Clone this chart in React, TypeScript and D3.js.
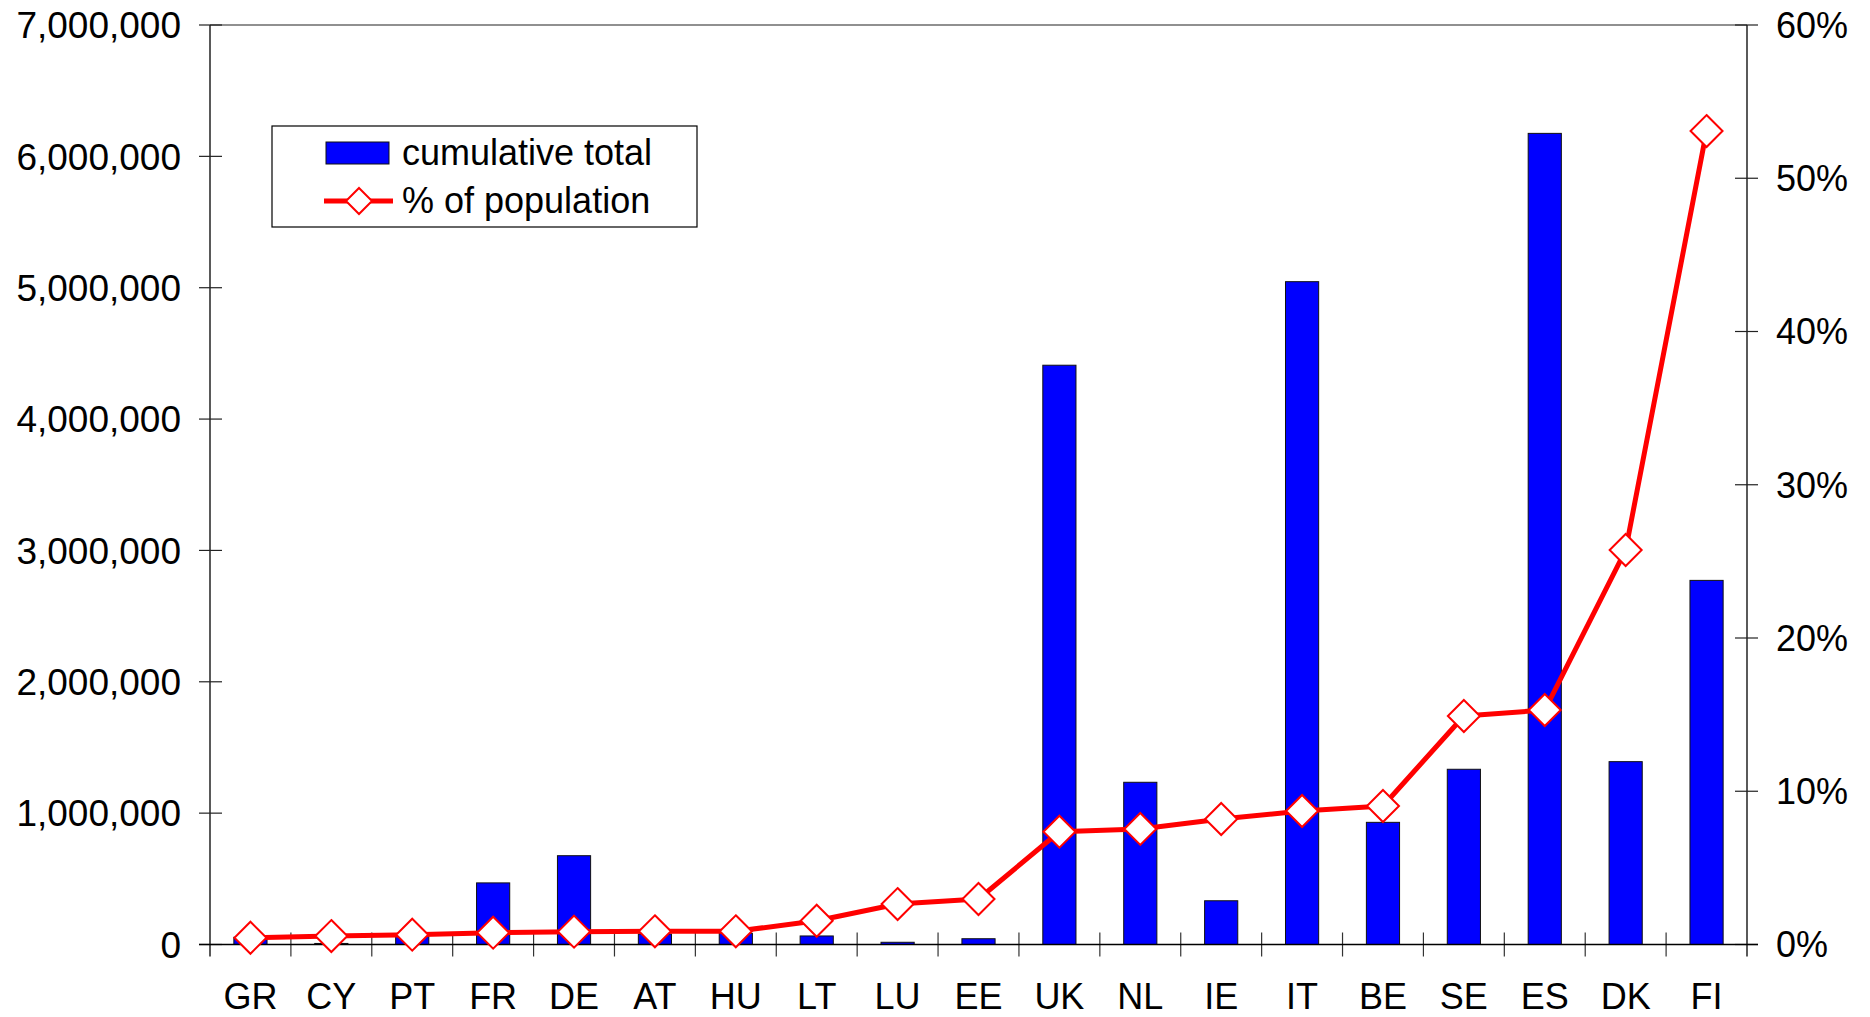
import { useEffect, useRef } from 'react';
import * as d3 from 'd3';

// country codes along the x axis
const countries = ['GR', 'CY', 'PT', 'FR', 'DE', 'AT', 'HU', 'LT', 'LU', 'EE', 'UK', 'NL', 'IE', 'IT', 'BE', 'SE', 'ES', 'DK', 'FI'];

// bars, left axis
const cumulativeTotal = [55000, 8000, 80000, 469000, 676000, 80000, 85000, 65000, 17000, 44000, 4410000, 1235000, 333000, 5046000, 930000, 1334000, 6175000, 1392000, 2772000];

// line, right axis (percent)
const pctPopulation = [0.44, 0.55, 0.64, 0.77, 0.84, 0.86, 0.86, 1.55, 2.64, 2.97, 7.36, 7.54, 8.19, 8.71, 9.04, 14.91, 15.3, 25.74, 53.08];

const leftTicks = [0, 1000000, 2000000, 3000000, 4000000, 5000000, 6000000, 7000000];
const rightTicks = [0, 10, 20, 30, 40, 50, 60];

const legendLabels = ['cumulative total', '% of population'];

const BLUE = '#0000ff';
const RED = '#ff0000';
const FONT = '"Liberation Sans", Arial, sans-serif';

function App() {
    const svgRef = useRef<SVGSVGElement | null>(null);

    useEffect(() => {
        if (!svgRef.current) return;
        const svg = d3.select(svgRef.current);
        svg.selectAll('*').remove();

        const left = 210;
        const right = 1747;
        const top = 25;
        const bottom = 944.5;

        const x = d3.scaleBand<string>().domain(countries).range([left, right]).padding(0);
        const yLeft = d3.scaleLinear().domain([0, 7000000]).range([bottom, top]);
        const yRight = d3.scaleLinear().domain([0, 60]).range([bottom, top]);
        const barW = x.bandwidth() * 0.41;
        const fmt = d3.format(',');

        // frame: top line + both axes
        svg.append('line')
            .attr('x1', left).attr('x2', right).attr('y1', top).attr('y2', top)
            .attr('stroke', '#222').attr('stroke-width', 1.2);
        svg.append('line')
            .attr('x1', left).attr('x2', left).attr('y1', top).attr('y2', bottom + 12)
            .attr('stroke', '#000').attr('stroke-width', 1.3);
        svg.append('line')
            .attr('x1', right).attr('x2', right).attr('y1', top).attr('y2', bottom + 12)
            .attr('stroke', '#000').attr('stroke-width', 1.3);

        // left ticks and labels
        leftTicks.forEach(t => {
            svg.append('line')
                .attr('x1', left - 11).attr('x2', left + 12)
                .attr('y1', yLeft(t)).attr('y2', yLeft(t))
                .attr('stroke', '#222').attr('stroke-width', 1.2);
            svg.append('text')
                .attr('x', 181).attr('y', yLeft(t)).attr('dy', '0.36em')
                .attr('text-anchor', 'end')
                .attr('font-family', FONT).attr('font-size', '37px')
                .text(fmt(t));
        });

        // right ticks and labels
        rightTicks.forEach(t => {
            svg.append('line')
                .attr('x1', right - 12).attr('x2', right + 11)
                .attr('y1', yRight(t)).attr('y2', yRight(t))
                .attr('stroke', '#222').attr('stroke-width', 1.2);
            svg.append('text')
                .attr('x', 1776).attr('y', yRight(t)).attr('dy', '0.36em')
                .attr('font-family', FONT).attr('font-size', '36px')
                .text(t + '%');
        });

        // category ticks at band edges
        countries.forEach((c, i) => {
            const xe = x(c)!;
            if (i > 0) {
                svg.append('line')
                    .attr('x1', xe).attr('x2', xe).attr('y1', bottom - 12).attr('y2', bottom + 12)
                    .attr('stroke', '#333').attr('stroke-width', 1.2);
            }
            svg.append('text')
                .attr('x', xe + x.bandwidth() / 2).attr('y', 1009)
                .attr('text-anchor', 'middle')
                .attr('font-family', FONT).attr('font-size', '36px')
                .text(c);
        });

        // bars
        svg.append('g').selectAll('rect')
            .data(cumulativeTotal)
            .join('rect')
            .attr('x', (_, i) => x(countries[i])! + (x.bandwidth() - barW) / 2)
            .attr('y', d => yLeft(d))
            .attr('width', barW)
            .attr('height', d => bottom - yLeft(d))
            .attr('fill', BLUE)
            .attr('stroke', '#111')
            .attr('stroke-width', 1);

        // bottom axis line (over the bars)
        svg.append('line')
            .attr('x1', left - 11).attr('x2', right + 11).attr('y1', bottom).attr('y2', bottom)
            .attr('stroke', '#000').attr('stroke-width', 1.5);

        // percent line
        const line = d3.line<number>()
            .x((_, i) => x(countries[i])! + x.bandwidth() / 2)
            .y(d => yRight(d));
        svg.append('path')
            .datum(pctPopulation)
            .attr('d', line)
            .attr('fill', 'none')
            .attr('stroke', RED)
            .attr('stroke-width', 5)
            .attr('stroke-linejoin', 'round');

        const diamond = (cx: number, cy: number, r: number) =>
            `M${cx},${cy - r}L${cx + r},${cy}L${cx},${cy + r}L${cx - r},${cy}Z`;

        svg.append('g').selectAll('path')
            .data(pctPopulation)
            .join('path')
            .attr('d', (d, i) => diamond(x(countries[i])! + x.bandwidth() / 2, yRight(d), 16))
            .attr('fill', 'white')
            .attr('stroke', RED)
            .attr('stroke-width', 2);

        // legend
        const lg = svg.append('g');
        lg.append('rect')
            .attr('x', 272).attr('y', 126).attr('width', 425).attr('height', 101)
            .attr('fill', 'white').attr('stroke', '#000').attr('stroke-width', 1.2);
        lg.append('rect')
            .attr('x', 326).attr('y', 142).attr('width', 63).attr('height', 22)
            .attr('fill', BLUE).attr('stroke', '#111').attr('stroke-width', 1);
        lg.append('line')
            .attr('x1', 324).attr('x2', 393).attr('y1', 201).attr('y2', 201)
            .attr('stroke', RED).attr('stroke-width', 5);
        lg.append('path')
            .attr('d', diamond(359, 201, 13))
            .attr('fill', 'white').attr('stroke', RED).attr('stroke-width', 2);
        legendLabels.forEach((lbl, i) => {
            lg.append('text')
                .attr('x', 402).attr('y', 165 + i * 48)
                .attr('font-family', FONT).attr('font-size', '36px')
                .text(lbl);
        });

        return () => {
            d3.select(svgRef.current).selectAll('*').remove();
        };
    }, []);

    return (
        <svg
            ref={svgRef}
            width={1870}
            height={1017}
            style={{ position: 'absolute', left: 0, top: 0, display: 'block', background: 'white' }}
        />
    );
}

export default App;
